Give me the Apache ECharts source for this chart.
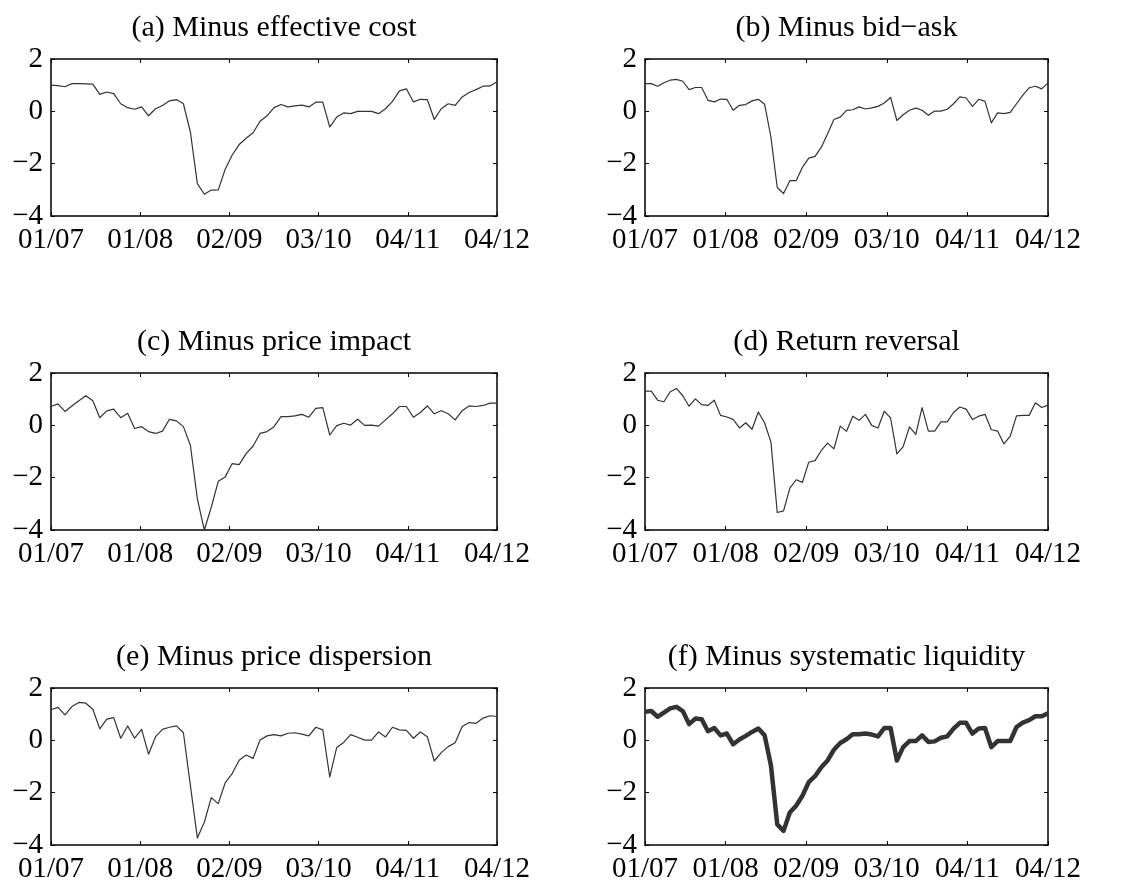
<!DOCTYPE html>
<html>
<head>
<meta charset="utf-8">
<script src="https://cdn.jsdelivr.net/npm/echarts@6/dist/echarts.min.js"></script>
<style>
  html, body { margin: 0; padding: 0; background: #fff; }
  #chart { width: 1137px; height: 884px; }
</style>
</head>
<body>
<div id="chart"></div>
<script>
// monthly series, 65 points from 01/07 on
var effCost = [1.00,0.98,0.94,1.06,1.06,1.05,1.04,0.65,0.74,0.68,0.29,0.14,0.08,0.17,-0.17,0.10,0.22,0.40,0.45,0.29,
  -0.79,-2.76,-3.17,-3.01,-3.00,-2.21,-1.67,-1.27,-1.03,-0.82,-0.38,-0.17,0.14,0.26,0.17,0.21,0.24,0.17,0.35,0.35,
  -0.60,-0.22,-0.06,-0.09,0.00,0.00,0.00,-0.09,0.10,0.38,0.78,0.86,0.36,0.46,0.45,-0.31,0.10,0.29,0.23,0.55,
  0.72,0.83,0.96,0.97,1.13];
var bidAsk = [1.06,1.06,0.96,1.09,1.19,1.22,1.15,0.83,0.91,0.91,0.42,0.36,0.47,0.46,0.04,0.23,0.26,0.40,0.46,0.27,
  -0.99,-2.91,-3.14,-2.65,-2.65,-2.14,-1.79,-1.72,-1.37,-0.86,-0.31,-0.22,0.04,0.06,0.17,0.09,0.13,0.19,0.32,0.53,
  -0.35,-0.13,0.04,0.12,0.04,-0.15,0.01,0.01,0.08,0.29,0.55,0.51,0.19,0.46,0.38,-0.44,-0.06,-0.09,-0.04,0.29,
  0.62,0.90,0.96,0.86,1.09];
var priceImpact = [0.72,0.82,0.53,0.74,0.94,1.13,0.94,0.29,0.55,0.62,0.29,0.46,-0.12,-0.05,-0.24,-0.31,-0.22,0.23,0.17,-0.05,
  -0.76,-2.81,-4.00,-3.13,-2.14,-1.97,-1.46,-1.50,-1.08,-0.79,-0.31,-0.24,-0.05,0.33,0.33,0.36,0.42,0.31,0.65,0.68,
  -0.37,-0.01,0.08,0.01,0.23,0.00,0.01,-0.03,0.21,0.44,0.72,0.72,0.31,0.49,0.74,0.44,0.56,0.44,0.21,0.56,
  0.74,0.72,0.76,0.85,0.85];
var reversal = [1.31,1.31,0.96,0.90,1.28,1.41,1.13,0.73,1.01,0.79,0.76,0.96,0.38,0.32,0.23,-0.10,0.10,-0.15,0.51,0.09,
  -0.64,-3.33,-3.27,-2.40,-2.08,-2.18,-1.41,-1.35,-0.96,-0.68,-0.90,-0.03,-0.23,0.35,0.19,0.42,0.00,-0.10,0.54,0.28,
  -1.09,-0.81,-0.06,-0.35,0.68,-0.22,-0.22,0.13,0.13,0.49,0.70,0.62,0.22,0.35,0.42,-0.17,-0.22,-0.71,-0.41,0.36,
  0.38,0.38,0.86,0.68,0.77];
var dispersion = [1.17,1.26,0.97,1.29,1.45,1.42,1.19,0.44,0.81,0.87,0.08,0.55,0.08,0.42,-0.53,0.14,0.42,0.50,0.55,0.29,
  -1.72,-3.73,-3.13,-2.19,-2.42,-1.62,-1.27,-0.76,-0.56,-0.69,0.01,0.17,0.22,0.17,0.27,0.29,0.24,0.17,0.50,0.40,
  -1.40,-0.27,-0.08,0.22,0.12,0.01,0.01,0.32,0.13,0.50,0.40,0.38,0.08,0.32,0.14,-0.79,-0.47,-0.24,-0.09,0.53,
  0.68,0.65,0.85,0.94,0.91];
var systematic = [1.09,1.12,0.90,1.06,1.22,1.28,1.12,0.62,0.83,0.81,0.35,0.47,0.19,0.26,-0.15,0.03,0.17,0.32,0.45,0.19,
  -0.96,-3.21,-3.46,-2.76,-2.50,-2.12,-1.60,-1.37,-1.03,-0.77,-0.36,-0.10,0.04,0.23,0.23,0.26,0.22,0.15,0.47,0.47,
  -0.77,-0.26,-0.03,-0.03,0.19,-0.06,-0.04,0.10,0.15,0.45,0.67,0.67,0.26,0.45,0.47,-0.26,-0.03,-0.03,-0.03,0.51,
  0.68,0.77,0.92,0.92,1.03];

var titles = ['(a) Minus effective cost', '(b) Minus bid\u2212ask', '(c) Minus price impact',
  '(d) Return reversal', '(e) Minus price dispersion', '(f) Minus systematic liquidity'];
var dateTicks = ['01/07', '01/08', '02/09', '03/10', '04/11', '04/12'];
var panels = [effCost, bidAsk, priceImpact, reversal, dispersion, systematic];

var font = '"Liberation Serif", "Times New Roman", serif';
var lastIdx = 64, tickStep = 12.8;

// panel boxes [left, top, width, height]
var boxes = [
  [51, 59, 446, 157], [645, 59, 403, 157],
  [51, 373, 446, 157], [645, 373, 403, 157],
  [51, 688, 446, 157], [645, 688, 403, 157]
];

var grid = [], xAxis = [], yAxis = [], series = [], title = [];
boxes.forEach(function(b, k){
  grid.push({left: b[0], top: b[1], width: b[2], height: b[3], show: false});
  title.push({
    text: titles[k], left: b[0] + b[2] / 2, top: b[1] - 46, textAlign: 'center', padding: 0,
    textStyle: {fontFamily: font, fontSize: 30, fontWeight: 'normal', color: '#000'}
  });
  var line = {show: true, onZero: false, lineStyle: {color: '#000', width: 1.5}};
  var tick = {show: true, inside: true, length: 4, lineStyle: {color: '#000', width: 1}};
  xAxis.push({
    type: 'value', gridIndex: k, position: 'bottom', min: 0, max: lastIdx, interval: tickStep,
    axisLine: line, axisTick: tick, splitLine: {show: false},
    axisLabel: {
      fontFamily: font, fontSize: 29, color: '#000', margin: 10,
      formatter: function(v){ return dateTicks[Math.round(v / tickStep)]; }
    }
  });
  xAxis.push({
    type: 'value', gridIndex: k, position: 'top', min: 0, max: lastIdx, interval: tickStep,
    axisLine: line, axisTick: tick, axisLabel: {show: false}, splitLine: {show: false}
  });
  yAxis.push({
    type: 'value', gridIndex: k, position: 'left', min: -4, max: 2, interval: 2,
    axisLine: line, axisTick: tick, splitLine: {show: false},
    axisLabel: {
      fontFamily: font, fontSize: 29, color: '#000', margin: 8,
      formatter: function(v){ return String(v).replace('-', '\u2212'); }
    }
  });
  yAxis.push({
    type: 'value', gridIndex: k, position: 'right', min: -4, max: 2, interval: 2,
    axisLine: line, axisTick: tick, axisLabel: {show: false}, splitLine: {show: false}
  });
  series.push({
    type: 'line', xAxisIndex: k * 2, yAxisIndex: k * 2, showSymbol: false,
    lineStyle: {color: '#333', width: k === 5 ? 4.5 : 1.2, join: 'round'},
    data: panels[k].map(function(v, i){ return [i, v]; })
  });
});

var myChart = echarts.init(document.getElementById('chart'));
myChart.setOption({
  animation: false,
  title: title,
  grid: grid,
  xAxis: xAxis,
  yAxis: yAxis,
  series: series
});
</script>
</body>
</html>
